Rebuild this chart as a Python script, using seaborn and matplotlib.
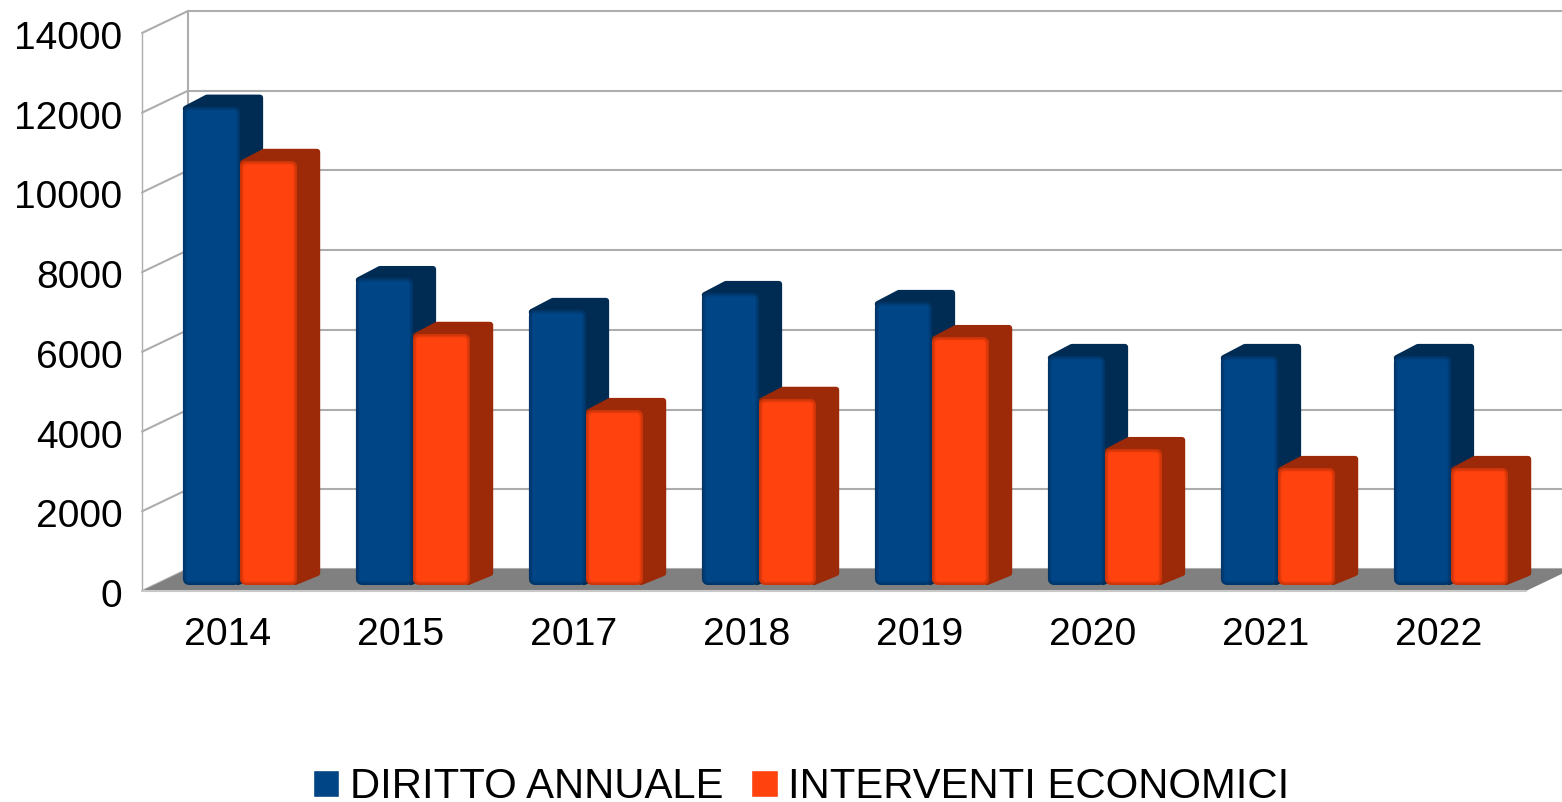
import numpy as np
import pandas as pd
import matplotlib
matplotlib.use("Agg")
import matplotlib.pyplot as plt
from matplotlib.patches import FancyBboxPatch, Polygon
from matplotlib.transforms import Affine2D, IdentityTransform
import seaborn as sns

# valori
anni = ["2014", "2015", "2017", "2018", "2019", "2020", "2021", "2022"]
diritto = [12000, 7700, 6900, 7325, 7100, 5745, 5745, 5745]
interventi = [10640, 6300, 4390, 4670, 6220, 3410, 2935, 2935]
y_ticks = [0, 2000, 4000, 6000, 8000, 10000, 12000, 14000]

BLUE, BLUE_SIDE, BLUE_EDGE = "#004586", "#002b53", "#00305e"
ORANGE, ORANGE_SIDE, ORANGE_EDGE = "#ff420e", "#9c2907", "#b83008"
GRID = "#adadad"
W, H = 1562, 802

df = pd.DataFrame({
    "anno": anni * 2,
    "valore": diritto + interventi,
    "serie": ["DIRITTO ANNUALE"] * len(anni) + ["INTERVENTI ECONOMICI"] * len(anni),
})

sns.set_theme(style="white")
plt.rcParams["font.family"] = ["Liberation Sans", "DejaVu Sans"]

fig = plt.figure(figsize=(W / 100, H / 100), dpi=100)
ax = fig.add_axes([142 / W, (H - 591) / H, 1384 / W, 558 / H])
sns.barplot(data=df, x="anno", y="valore", hue="serie",
            palette=[BLUE, ORANGE], width=0.66, gap=0, saturation=1, ax=ax)
ax.set_xlim(-0.5, 7.5)
ax.set_ylim(0, 14000)
ax.set_xlabel("")
ax.set_ylabel("")
ax.set_yticks(y_ticks)
ax.tick_params(axis="y", length=0, pad=14, labelsize=28, labelcolor="black")
ax.tick_params(axis="x", length=0, pad=19, labelsize=28.3, labelcolor="black")
for s in ax.spines.values():
    s.set_visible(False)
for lab in ax.get_yticklabels():
    lab.set_transform(lab.get_transform() + Affine2D().translate(0, -2))
for lab in ax.get_xticklabels():
    lab.set_transform(lab.get_transform() + Affine2D().translate(-1, 0))

# pareti e pavimento pseudo 3D
DX, DY = 46, 22
back = ax.transData + Affine2D().translate(DX, DY)
x0_ax, x1_ax = ax.get_xlim()
for v in y_ticks:
    ax.plot([x0_ax, x1_ax], [v, v], color=GRID, lw=1.5, transform=back,
            clip_on=False, zorder=1)
    p = ax.transData.transform((x0_ax, v))
    ax.plot([p[0], p[0] + DX], [p[1], p[1] + DY], color=GRID, lw=1.5,
            transform=IdentityTransform(), clip_on=False, zorder=1)
ax.plot([x0_ax, x0_ax], [0, 14000], color=GRID, lw=1, clip_on=False, zorder=1)
ax.plot([x0_ax, x0_ax], [0, 14000], color=GRID, lw=1.5, transform=back, clip_on=False, zorder=1)

a = ax.transData.transform((x0_ax, 0))
b = ax.transData.transform((x1_ax, 0))
ax.add_patch(Polygon([a, a + [DX, DY], b + [DX, DY], b], closed=True, facecolor="#808080",
                     edgecolor="none", transform=IdentityTransform(), clip_on=False, zorder=2))
ax.plot([x0_ax, x1_ax], [0, 0], color="#c8c8c8", lw=1.5, clip_on=False, zorder=2.5)

# barre: facce da seaborn, spostate e con fianco/tetto
SHIFT_X, SHIFT_Y = 11.5, 6
DEPTH_X, DEPTH_Y = 22, 11
offset = ax.transData + Affine2D().translate(SHIFT_X, SHIFT_Y)
for i in range(len(anni)):
    for j, (side, edge) in enumerate([(BLUE_SIDE, BLUE_EDGE), (ORANGE_SIDE, ORANGE_EDGE)]):
        bar = ax.containers[j][i]
        z = 3 + i + j * 0.3
        bar.set_transform(offset)
        bar.set_linewidth(0)
        (x0, y0), (x1, y1) = offset.transform(
            [(bar.get_x(), 0), (bar.get_x() + bar.get_width(), bar.get_height())])
        # silhouette di fianco e tetto, angoli arrotondati
        ax.add_patch(Polygon(
            [(x0 + 3, y1 - 2), (x0 + DEPTH_X + 2, y1 + DEPTH_Y - 2), (x1 + DEPTH_X - 2, y1 + DEPTH_Y - 2),
             (x1 + DEPTH_X - 2, y0 + DEPTH_Y + 1), (x1 - 2, y0 + 3)],
            closed=True, facecolor=side, edgecolor=side, lw=4.5, joinstyle="round",
            transform=IdentityTransform(), clip_on=False, zorder=z))
        clip = FancyBboxPatch((x0 + 4, y0 + 4), x1 - x0 - 8, y1 - y0 - 8,
                              boxstyle="round,pad=4,rounding_size=7",
                              facecolor="none", edgecolor="none",
                              transform=IdentityTransform())
        ax.add_patch(clip)
        bar.set_zorder(z + 0.1)
        bar.set_clip_path(clip)
        # bordo sfumato della faccia
        for inset, alpha in [(0.8, 0.7), (2, 0.35), (3, 0.15)]:
            ax.add_patch(FancyBboxPatch(
                (x0 + 4, y0 + 4), x1 - x0 - 8, y1 - y0 - 8,
                boxstyle=f"round,pad={4 - inset},rounding_size={max(7 - inset, 1)}",
                facecolor="none", edgecolor=edge, lw=1.2, alpha=alpha,
                transform=IdentityTransform(), clip_on=False, zorder=z + 0.2))

handles, labels = ax.get_legend_handles_labels()
ax.legend(handles, labels, ncols=2, frameon=False, fontsize=30.2, loc="center",
          bbox_to_anchor=(801 / W, (H - 787) / H), bbox_transform=fig.transFigure,
          handlelength=0.63, handleheight=0.63, handletextpad=0.25, columnspacing=0.67,
          borderpad=0, borderaxespad=0, labelcolor="black")

fig.savefig("out.png", dpi=100)
